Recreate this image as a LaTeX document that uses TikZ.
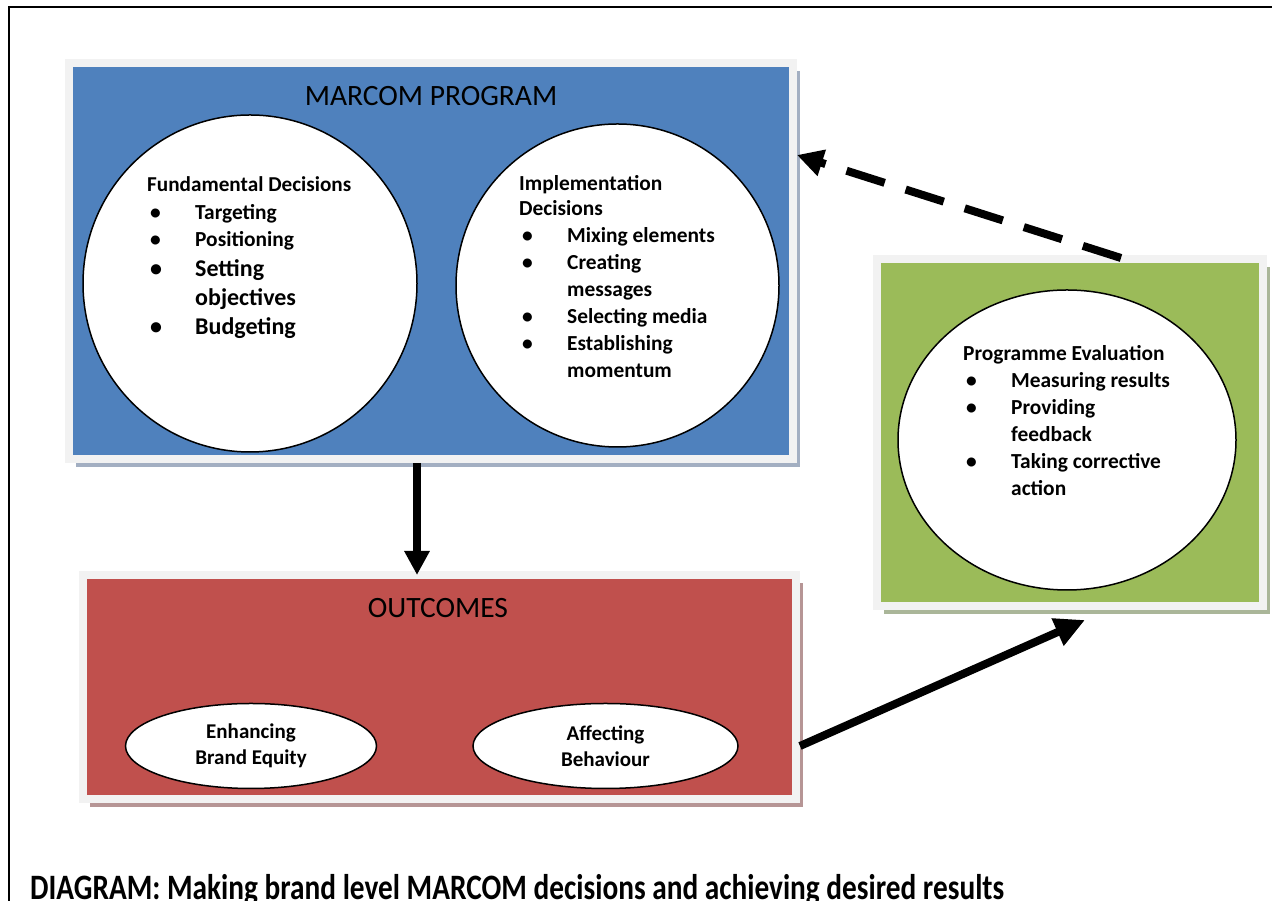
\documentclass[tikz,border=0pt]{standalone}
\usepackage{fontspec}
\setmainfont{Carlito}
\usetikzlibrary{shapes.geometric,arrows.meta,shadows}
\definecolor{marcomblue}{HTML}{4F81BD}
\definecolor{outcomered}{HTML}{C0504D}
\definecolor{evalgreen}{HTML}{9BBB59}
\definecolor{rimgray}{HTML}{F2F2F2}
\definecolor{blueshade}{HTML}{A3AFC2}
\definecolor{redshade}{HTML}{B69595}
\definecolor{greenshade}{HTML}{AAB699}
\newcommand{\bul}{\makebox[48pt][l]{\hspace{3pt}\textbullet}}
\newcommand{\gap}{\hspace*{48pt}}
\begin{document}
\begin{tikzpicture}[x=1pt,y=1pt,
    panel/.style={draw=rimgray,line width=8pt,inner sep=0pt},
    bubble/.style={ellipse,draw=black,line width=1.5pt,fill=white,inner sep=0pt},
    listtext/.style={align=left,anchor=base west,inner sep=0pt,
      font=\bfseries\fontsize{21.4}{27}\selectfont},
    heavy/.style={line width=8pt,draw=black}]
\useasboundingbox (0,0) rectangle (1272,901);
% frame
\draw[line width=1.5pt] (9,0) -- (9,894) -- (1272,894);

% panels
\node[panel,fill=marcomblue,minimum width=724pt,minimum height=396pt,
  drop shadow={shadow xshift=7pt,shadow yshift=-8pt,fill=blueshade,opacity=1}] (marcom) at (431,640) {};
\node[panel,fill=outcomered,minimum width=713pt,minimum height=224pt,
  drop shadow={shadow xshift=7pt,shadow yshift=-8pt,fill=redshade,opacity=1}] (outcomes) at (439.5,214) {};
\node[panel,fill=evalgreen,minimum width=386pt,minimum height=347pt,
  drop shadow={shadow xshift=7pt,shadow yshift=-8pt,fill=greenshade,opacity=1}] (evalbox) at (1070,468.5) {};

\node[font=\fontsize{29.5}{35}\selectfont,inner sep=0pt] (marcomtitle) at (431,805) {MARCOM PROGRAM};
\node[font=\fontsize{29.5}{35}\selectfont,inner sep=0pt] (outtitle) at (438,293) {OUTCOMES};

% circles
\node[bubble,minimum width=334pt,minimum height=337pt] (fund) at (250,617.5) {};
\node[bubble,minimum width=323pt,minimum height=323pt] (impl) at (617.5,615.5) {};
\node[bubble,minimum width=338pt,minimum height=300pt] (evalcircle) at (1067,461) {};

\node[listtext] (fundtext) at (147,566) {{\fontsize{21.2}{27}\selectfont Fundamental Decisions}\\[1pt]
  \bul Targeting\\
  \bul Positioning\\[3pt]
  {\fontsize{24}{30}\selectfont\bul Setting}\\[2pt]
  {\fontsize{24}{30}\selectfont\gap objectives}\\[2pt]
  {\fontsize{24}{30}\selectfont\bul Budgeting}};
\node[listtext] (impltext) at (519,523) {Implementation\\[-2pt]
  Decisions\\
  \bul Mixing elements\\
  \bul Creating\\
  \gap messages\\
  \bul Selecting media\\
  \bul Establishing\\
  \gap momentum};
\node[listtext] (evaltext) at (963,405) {Programme Evaluation\\
  \bul Measuring results\\
  \bul Providing\\
  \gap feedback\\
  \bul Taking corrective\\
  \gap action};

% outcome ellipses
\node[bubble,minimum width=251pt,minimum height=85pt,align=center,
  font=\bfseries\fontsize{21}{26}\selectfont] (equity) at (251,155) {Enhancing\\Brand Equity};
\node[bubble,minimum width=265pt,minimum height=85pt,align=center,
  font=\bfseries\fontsize{21}{26}\selectfont] (affect) at (605.5,155) {Affecting\\Behaviour};

% arrows
\draw[heavy,-{Triangle[length=24pt,width=24pt]}] ([xshift=-14pt]marcom.south) -- ([xshift=-22.5pt,yshift=-4pt]outcomes.north);
\draw[heavy,dash pattern=on 40pt off 22pt,-{Triangle[length=26pt,width=26pt]}]
  ([xshift=51pt,yshift=-3pt]evalbox.north) -- (marcom.east |- 0,746);
\draw[heavy,-{Triangle[length=30pt,width=28pt]}]
  (outcomes.east |- affect.center) -- ([xshift=15pt,yshift=-10pt]evalbox.south);

\node[anchor=base west,inner sep=0pt,yscale=1.22,transform shape,
  font=\bfseries\fontsize{29.3}{34}\selectfont] (caption) at (30,1)
  {DIAGRAM: Making brand level MARCOM decisions and achieving desired results};
\end{tikzpicture}
\end{document}
